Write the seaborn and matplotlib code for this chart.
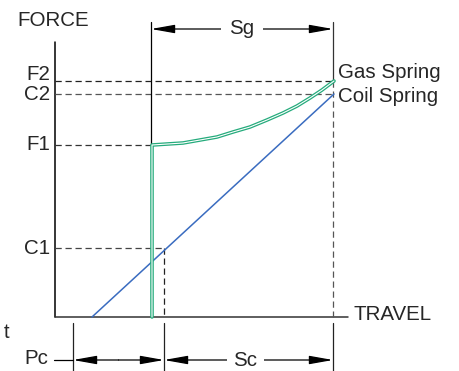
import pandas as pd
import seaborn as sns
import matplotlib.pyplot as plt

GAS_TRAVEL = [97, 97, 128, 145, 162, 178, 195, 212, 228, 242, 255, 267, 279]
GAS_FORCE = [0, 172, 174, 177, 180, 185, 190, 197, 204, 211, 219, 227, 236]
COIL_TRAVEL = [37, 279]
COIL_FORCE = [0, 223]

FORCE_LABELS = ["F2", "C2", "F1", "C1"]
FORCE_VALUES = [236, 223, 172, 69]
FORCE_LINE_END = [279, 279, 97, 109]   # where each dashed guide stops
FORCE_COLORS = ["#222222", "#555555", "#333333", "#444444"]

PC_START = 18     # preload tick
SG_START = 96     # start of gas spring stroke
C1_TRAVEL = 109   # coil travel at C1
STROKE_END = 278  # full stroke

GREEN = "#25ab7c"
BLUE = "#3a6cc0"

sns.set_theme(style="white")
plt.rcParams['font.family'] = ['Liberation Sans', 'DejaVu Sans']
FS = 14.8

fig = plt.figure(figsize=(4.59, 3.71), dpi=100)
ax = fig.add_axes([0, 0, 1, 1])
ax.set_xlim(-55, 404)
ax.set_ylim(-54, 317)
ax.axis('off')

# axes of the diagram
ax.plot([0, 0], [0, 275], color='black', lw=1.1)
ax.plot([0, 293], [0, 0], color='#333333', lw=1.1)
ax.text(-38, 297, "FORCE", fontsize=FS, va='center', ha='left')
ax.text(298, 2, "TRAVEL", fontsize=FS, va='center', ha='left')

# dashed force guides + labels
for lab, val, end, col in zip(FORCE_LABELS, FORCE_VALUES, FORCE_LINE_END, FORCE_COLORS):
    ax.plot([0, end], [val, val], color=col, lw=0.9, ls=(0, (5, 3)))
    dy = 6 if lab == "F2" else 0
    ax.text(-5, val + dy, lab, fontsize=FS, va='center', ha='right')

# vertical guides
ax.plot([C1_TRAVEL, C1_TRAVEL], [FORCE_VALUES[3], 0], color='#222222', lw=0.9, ls=(0, (5, 3)))
ax.plot([STROKE_END, STROKE_END], [FORCE_VALUES[0], 0], color='#555555', lw=0.9, ls=(0, (5, 3)))
ax.plot([STROKE_END, STROKE_END], [FORCE_VALUES[0], 295], color='#333333', lw=0.9)
ax.plot([SG_START, SG_START], [FORCE_VALUES[2], 295], color='black', lw=0.9)
for t in [PC_START, C1_TRAVEL, STROKE_END]:
    ax.plot([t, t], [-6, -54], color='#222222', lw=0.9)

# spring curves
gas = pd.DataFrame({"travel": GAS_TRAVEL, "force": GAS_FORCE})
coil = pd.DataFrame({"travel": COIL_TRAVEL, "force": COIL_FORCE})
sns.lineplot(data=coil, x="travel", y="force", sort=False, estimator=None,
             color=BLUE, lw=1.1, ax=ax)
sns.lineplot(data=gas, x="travel", y="force", sort=False, estimator=None,
             color=GREEN, lw=2.6, ax=ax)
sns.lineplot(data=gas, x="travel", y="force", sort=False, estimator=None,
             color='white', lw=0.8, ax=ax)
ax.set_xlabel("")
ax.set_ylabel("")
ax.text(283, 244, "Gas Spring", fontsize=FS, va='center', ha='left')
ax.text(283, 220, "Coil Spring", fontsize=FS, va='center', ha='left')

# dimension arrows
arrow = dict(arrowstyle="-|>,head_length=0.9,head_width=0.16", color='black',
             lw=0.9, mutation_scale=16, shrinkA=0, shrinkB=0)
sg_mid = (SG_START + STROKE_END) / 2
ax.annotate("", xy=(SG_START, 288), xytext=(sg_mid, 288), arrowprops=arrow)
ax.annotate("", xy=(STROKE_END, 288), xytext=(sg_mid, 288), arrowprops=arrow)
ax.text(sg_mid, 288, "Sg", fontsize=FS, va='center', ha='center',
        bbox=dict(facecolor='white', edgecolor='none', pad=6))

pc_mid = (PC_START + C1_TRAVEL) / 2
sc_mid = (C1_TRAVEL + STROKE_END) / 2
ax.plot([-1, PC_START], [-43, -43], color='black', lw=0.9)
ax.annotate("", xy=(PC_START, -43), xytext=(pc_mid, -43), arrowprops=arrow)
ax.annotate("", xy=(C1_TRAVEL, -43), xytext=(pc_mid, -43), arrowprops=arrow)
ax.annotate("", xy=(C1_TRAVEL, -43), xytext=(sc_mid, -43), arrowprops=arrow)
ax.annotate("", xy=(STROKE_END, -43), xytext=(sc_mid, -43), arrowprops=arrow)
ax.text(sc_mid - 3, -43, "Sc", fontsize=FS, va='center', ha='center',
        bbox=dict(facecolor='white', edgecolor='none', pad=5))
ax.text(-7, -42, "Pc", fontsize=FS, va='center', ha='right')
ax.text(-46, -15, "t", fontsize=FS, va='center', ha='right')

fig.savefig("out.png", dpi=100)
